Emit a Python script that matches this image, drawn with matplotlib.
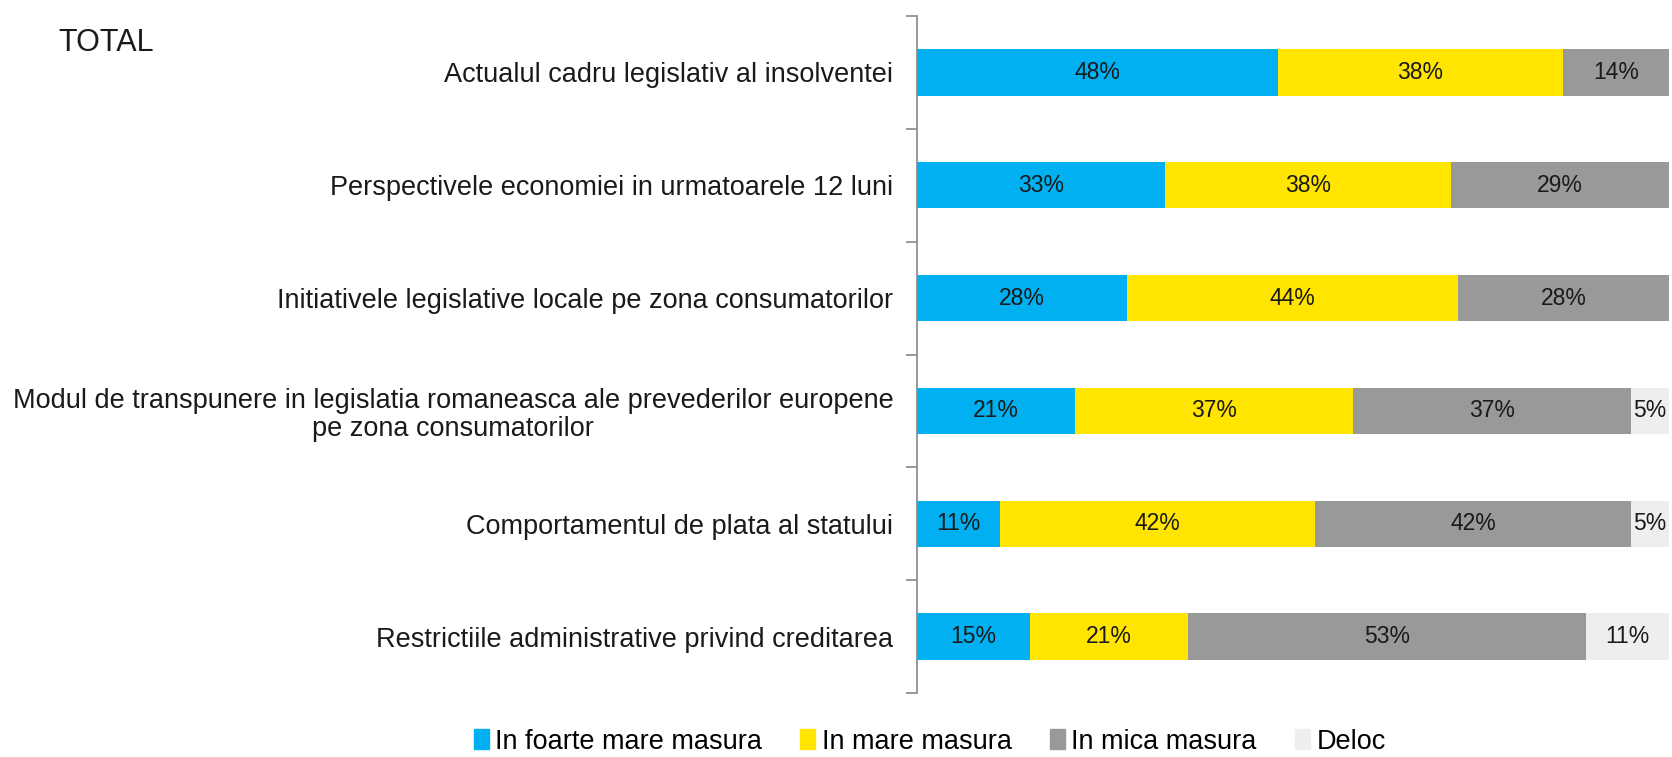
import matplotlib.pyplot as plt
import matplotlib.patches as mpatches

# --- date ---
categories = [
    "Actualul cadru legislativ al insolventei",
    "Perspectivele economiei in urmatoarele 12 luni",
    "Initiativele legislative locale pe zona consumatorilor",
    "Modul de transpunere in legislatia romaneasca ale prevederilor europene\npe zona consumatorilor",
    "Comportamentul de plata al statului",
    "Restrictiile administrative privind creditarea",
]
foarte_mare = [48, 33, 28, 21, 11, 15]
mare = [38, 38, 44, 37, 42, 21]
mica = [14, 29, 28, 37, 42, 53]
deloc = [0, 0, 0, 5, 5, 11]
series_names = ["In foarte mare masura", "In mare masura", "In mica masura", "Deloc"]
colors = ["#00B0F0", "#FFE500", "#999999", "#EEEEEE"]

plt.rcParams['font.family'] = ['Liberation Sans', 'DejaVu Sans']

fig = plt.figure(figsize=(16.72, 7.57), dpi=100)
ax = fig.add_axes([0.5484, 0.0845, 0.4496, 0.8944])

series = [foarte_mare, mare, mica, deloc]
ypos = list(range(len(categories)))
left = [0] * len(categories)
for vals, col in zip(series, colors):
    ax.barh(ypos, vals, left=left, height=0.41, color=col, edgecolor='none')
    for y, v, l in zip(ypos, vals, left):
        if v > 0:
            ax.text(l + v / 2, y, f"{v}%", ha='center', va='center',
                    fontsize=16.5, color='#1a1a1a')
    left = [a + b for a, b in zip(left, vals)]

ax.set_xlim(0, 100)
ax.set_ylim(len(categories) - 0.5, -0.5)
ax.set_yticks(ypos)
ax.set_yticklabels(categories, fontsize=19.5, color='#1a1a1a', multialignment='center',
                   linespacing=1.1)
ax.set_yticks([i - 0.5 for i in range(len(categories) + 1)], minor=True)
ax.tick_params(axis='y', which='major', length=0, pad=17)
ax.tick_params(axis='y', which='minor', length=8, color='#888888', width=1.2)
ax.set_xticks([])
for s in ['top', 'right', 'bottom']:
    ax.spines[s].set_visible(False)
ax.spines['left'].set_color('#888888')
ax.spines['left'].set_linewidth(1.2)

fig.text(0.035, 0.943, "TOTAL", fontsize=22, color='#1a1a1a', ha='left', va='center')

handles = [mpatches.Patch(color=c, label=n) for c, n in zip(colors, series_names)]
fig.legend(handles=handles, loc='center', bbox_to_anchor=(0.556, 0.02), ncol=4,
           frameon=False, fontsize=19.5, handlelength=0.55, handleheight=0.75,
           handletextpad=0.25, columnspacing=1.4)

plt.savefig("out.png", dpi=100)
